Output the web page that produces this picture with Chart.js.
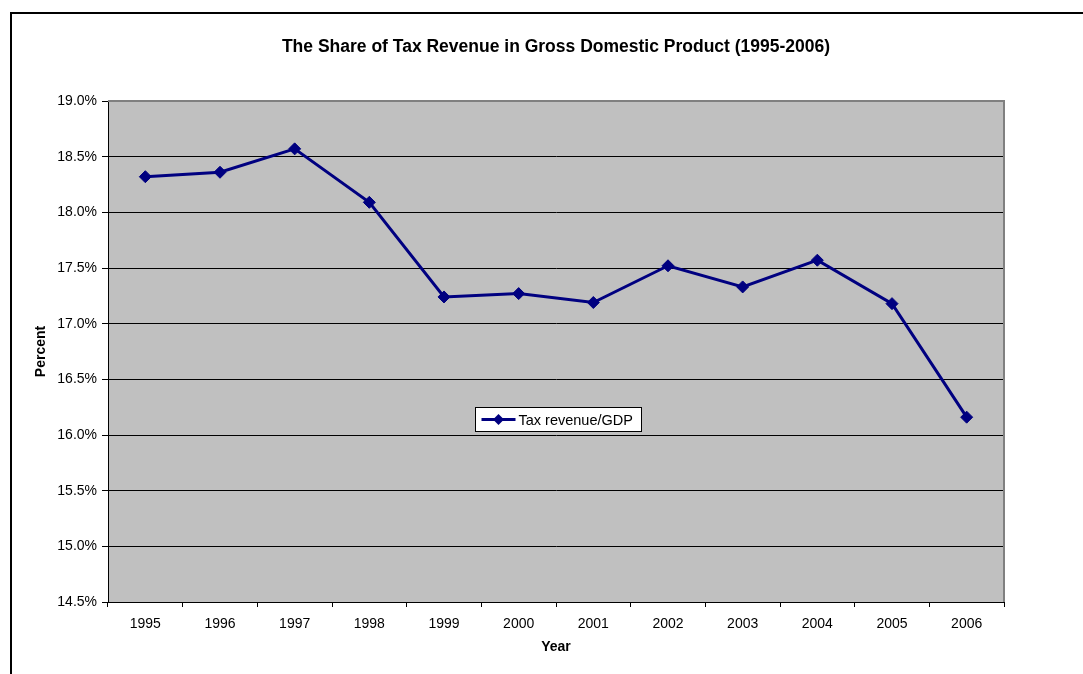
<!DOCTYPE html>
<html lang="en">
<head>
    <meta charset="UTF-8">
    <title>Tax Revenue Share</title>
    <style>
        html, body { margin: 0; padding: 0; background: #ffffff; }
        #taxChart { display: block; }
    </style>
</head>
<body>
    <canvas id="taxChart" width="1083" height="674"></canvas>

    <script src="https://cdn.jsdelivr.net/npm/chart.js"></script>
    <script>
        // Data
        const years = ['1995', '1996', '1997', '1998', '1999', '2000', '2001', '2002', '2003', '2004', '2005', '2006'];
        const taxShare = [18.32, 18.36, 18.57, 18.09, 17.24, 17.27, 17.19, 17.52, 17.33, 17.57, 17.18, 16.16];
        const seriesLabel = 'Tax revenue/GDP';
        const yMin = 14.5;
        const yMax = 19.0;
        const yStep = 0.5;

        const FONT = "'Liberation Sans', Arial, sans-serif";
        const NAVY = '#000080';

        // gray plot area, its border, and the outer frame
        const excelLook = {
            id: 'excelLook',
            beforeDraw(chart) {
                const { ctx, chartArea: a } = chart;
                ctx.save();
                ctx.fillStyle = '#ffffff';
                ctx.fillRect(0, 0, chart.width, chart.height);
                ctx.fillStyle = '#c0c0c0';
                ctx.fillRect(a.left, a.top, a.right - a.left, a.bottom - a.top);
                // outer frame (runs off the right and bottom edges)
                ctx.strokeStyle = '#000000';
                ctx.lineWidth = 2;
                ctx.strokeRect(11, 13, chart.width + 20, chart.height + 20);
                ctx.restore();
            },
            beforeDatasetsDraw(chart) {
                const { ctx, chartArea: a } = chart;
                ctx.save();
                ctx.strokeStyle = '#808080';
                ctx.lineWidth = 2;
                ctx.beginPath();
                ctx.moveTo(a.left, a.top);
                ctx.lineTo(a.right, a.top);
                ctx.lineTo(a.right, a.bottom);
                ctx.stroke();
                ctx.restore();
            },
            afterDraw(chart) {
                // legend box inside the plot area
                const { ctx, chartArea: a } = chart;
                const ds = chart.data.datasets[0];
                const bx = a.left + 367.5, by = a.top + 306.5, bw = 166, bh = 24;
                ctx.save();
                ctx.fillStyle = '#ffffff';
                ctx.fillRect(bx, by, bw, bh);
                ctx.strokeStyle = '#000000';
                ctx.lineWidth = 1;
                ctx.strokeRect(bx, by, bw, bh);
                const cy = by + bh / 2;
                ctx.strokeStyle = NAVY;
                ctx.lineWidth = 3;
                ctx.beginPath();
                ctx.moveTo(bx + 6, cy);
                ctx.lineTo(bx + 40, cy);
                ctx.stroke();
                ctx.fillStyle = NAVY;
                ctx.beginPath();
                ctx.moveTo(bx + 23, cy - 5.5);
                ctx.lineTo(bx + 28.5, cy);
                ctx.lineTo(bx + 23, cy + 5.5);
                ctx.lineTo(bx + 17.5, cy);
                ctx.closePath();
                ctx.fill();
                ctx.fillStyle = '#000000';
                ctx.font = '14.5px ' + FONT;
                ctx.textBaseline = 'middle';
                ctx.fillText(ds.label, bx + 43, cy + 1);
                ctx.restore();
            }
        };

        const ctx = document.getElementById('taxChart').getContext('2d');
        const chart = new Chart(ctx, {
            type: 'line',
            data: {
                labels: years,
                datasets: [{
                    label: seriesLabel,
                    data: taxShare,
                    borderColor: NAVY,
                    backgroundColor: NAVY,
                    borderWidth: 3,
                    pointStyle: 'rectRot',
                    pointRadius: 6,
                    pointBorderWidth: 1,
                    pointBackgroundColor: NAVY,
                    pointBorderColor: NAVY,
                    fill: false,
                    tension: 0
                }]
            },
            options: {
                responsive: false,
                animation: false,
                layout: {
                    padding: { top: 0, left: 0, right: 79, bottom: 0 }
                },
                plugins: {
                    legend: { display: false },
                    tooltip: { enabled: false },
                    title: {
                        display: true,
                        fullSize: false,
                        text: 'The Share of Tax Revenue in Gross Domestic Product (1995-2006)',
                        color: '#000000',
                        font: { family: FONT, size: 17.5, weight: 'bold', lineHeight: 1.2 },
                        padding: { top: 37, bottom: 43 }
                    }
                },
                scales: {
                    x: {
                        type: 'category',
                        offset: true,
                        afterFit: (scale) => { scale.height = 72; },
                        grid: {
                            display: true,
                            offset: true,
                            drawOnChartArea: false,
                            drawTicks: true,
                            tickLength: 5,
                            color: '#000000'
                        },
                        border: { display: true, color: '#000000', width: 1 },
                        ticks: {
                            color: '#000000',
                            font: { family: FONT, size: 14 },
                            maxRotation: 0,
                            autoSkip: false,
                            padding: 9
                        },
                        title: {
                            display: true,
                            text: 'Year',
                            color: '#000000',
                            font: { family: FONT, size: 14, weight: 'bold', lineHeight: 1.2 },
                            padding: { top: 0, bottom: 18 }
                        }
                    },
                    y: {
                        min: yMin,
                        max: yMax,
                        afterFit: (scale) => { scale.width = 108; },
                        grid: {
                            color: '#000000',
                            lineWidth: 1,
                            drawTicks: true,
                            tickLength: 6
                        },
                        border: { display: true, color: '#000000', width: 1 },
                        ticks: {
                            stepSize: yStep,
                            color: '#000000',
                            font: { family: FONT, size: 14 },
                            padding: 5,
                            callback: (v) => Number(v).toFixed(1) + '%'
                        },
                        title: {
                            display: true,
                            text: 'Percent',
                            color: '#000000',
                            font: { family: FONT, size: 14, weight: 'bold', lineHeight: 1.2 },
                            padding: { top: 33, bottom: 0 }
                        }
                    }
                }
            },
            plugins: [excelLook]
        });
    </script>
</body>
</html>
